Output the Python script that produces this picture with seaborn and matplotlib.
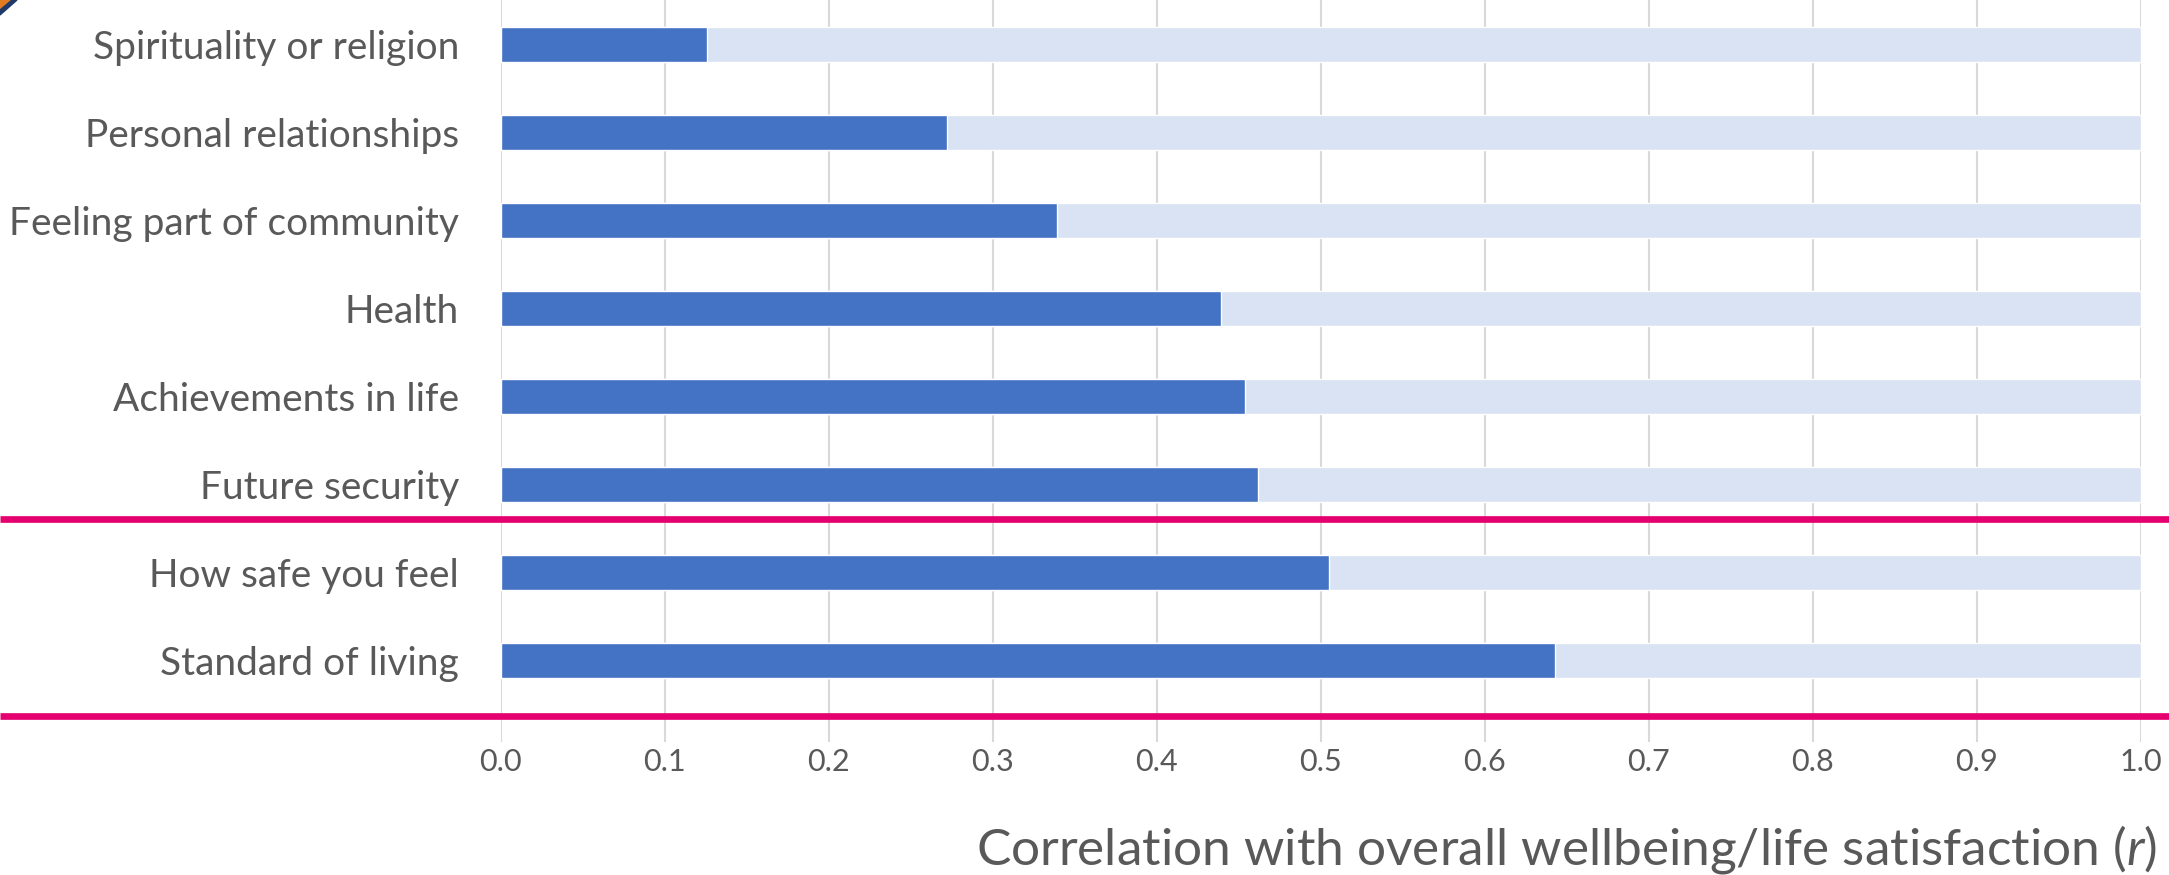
import pandas as pd
import matplotlib.pyplot as plt
import matplotlib.transforms as mtransforms
from matplotlib.patches import Polygon
import seaborn as sns

# Chart values
categories = ['Spirituality or religion', 'Personal relationships', 'Feeling part of community',
              'Health', 'Achievements in life', 'Future security',
              'How safe you feel', 'Standard of living']
correlations = [0.126, 0.272, 0.339, 0.439, 0.454, 0.462, 0.505, 0.643]
full_scale = [1.0] * len(categories)
x_ticks = [0.0, 0.1, 0.2, 0.3, 0.4, 0.5, 0.6, 0.7, 0.8, 0.9, 1.0]
divider_rows = [5.39, 7.63]

df = pd.DataFrame({'category': categories, 'r': correlations, 'full': full_scale})

sns.set_style('white')
plt.rcParams['font.family'] = ['Lato', 'DejaVu Sans']
plt.rcParams['mathtext.fontset'] = 'custom'
plt.rcParams['mathtext.rm'] = 'Lato'
plt.rcParams['mathtext.it'] = 'Lato:italic'

grey = '#595959'
fig = plt.figure(figsize=(21.69, 8.75), dpi=100)
ax = fig.add_axes([0.2308, 1 - 742 / 875, 0.7563, 742 / 875])

# light background bars then the actual correlation bars
sns.barplot(data=df, x='full', y='category', orient='h', color='#DAE3F3',
            saturation=1, width=0.40, errorbar=None, ax=ax)
sns.barplot(data=df, x='r', y='category', orient='h', color='#4472C4',
            saturation=1, width=0.40, errorbar=None, ax=ax)

ax.set_xlim(0, 1.0)
ax.set_ylim(7.93, -0.506)
ax.set_xticks(x_ticks)
ax.set_xticklabels([f'{t:.1f}' for t in x_ticks])
ax.set_axisbelow(True)
ax.xaxis.grid(True, color='#D9D9D9', linewidth=1.5)
ax.yaxis.grid(False)
for s in ax.spines.values():
    s.set_visible(False)
ax.tick_params(axis='y', length=0, pad=30, labelsize=28, labelcolor=grey)
ax.tick_params(axis='x', length=0, pad=4, labelsize=22, labelcolor=grey)
ax.set_xlabel('')
ax.set_ylabel('')

# magenta divider lines running across the whole figure
trans = mtransforms.blended_transform_factory(fig.transFigure, ax.transData)
for yv in divider_rows:
    ax.plot([0, 1], [yv, yv], transform=trans, color='#E4006E', linewidth=4.8,
            clip_on=False, solid_capstyle='butt', zorder=5)

fig.text(0.9945, 1 - 850 / 875,
         'Correlation with overall wellbeing/life satisfaction ($\\mathit{r}$)',
         ha='right', va='center', fontsize=37, color=grey)

# cropped logo corner in the top left
W, H = 2169, 875
fig.patches.append(Polygon([(0, 1), (12 / W, 1), (0, 1 - 10 / H)], closed=True,
                           transform=fig.transFigure, color='#E07B22'))
fig.patches.append(Polygon([(12 / W, 1), (17 / W, 1), (0, 1 - 15 / H), (0, 1 - 10 / H)],
                           closed=True, transform=fig.transFigure, color='#1F3A68'))

fig.savefig('out.png', dpi=100)
